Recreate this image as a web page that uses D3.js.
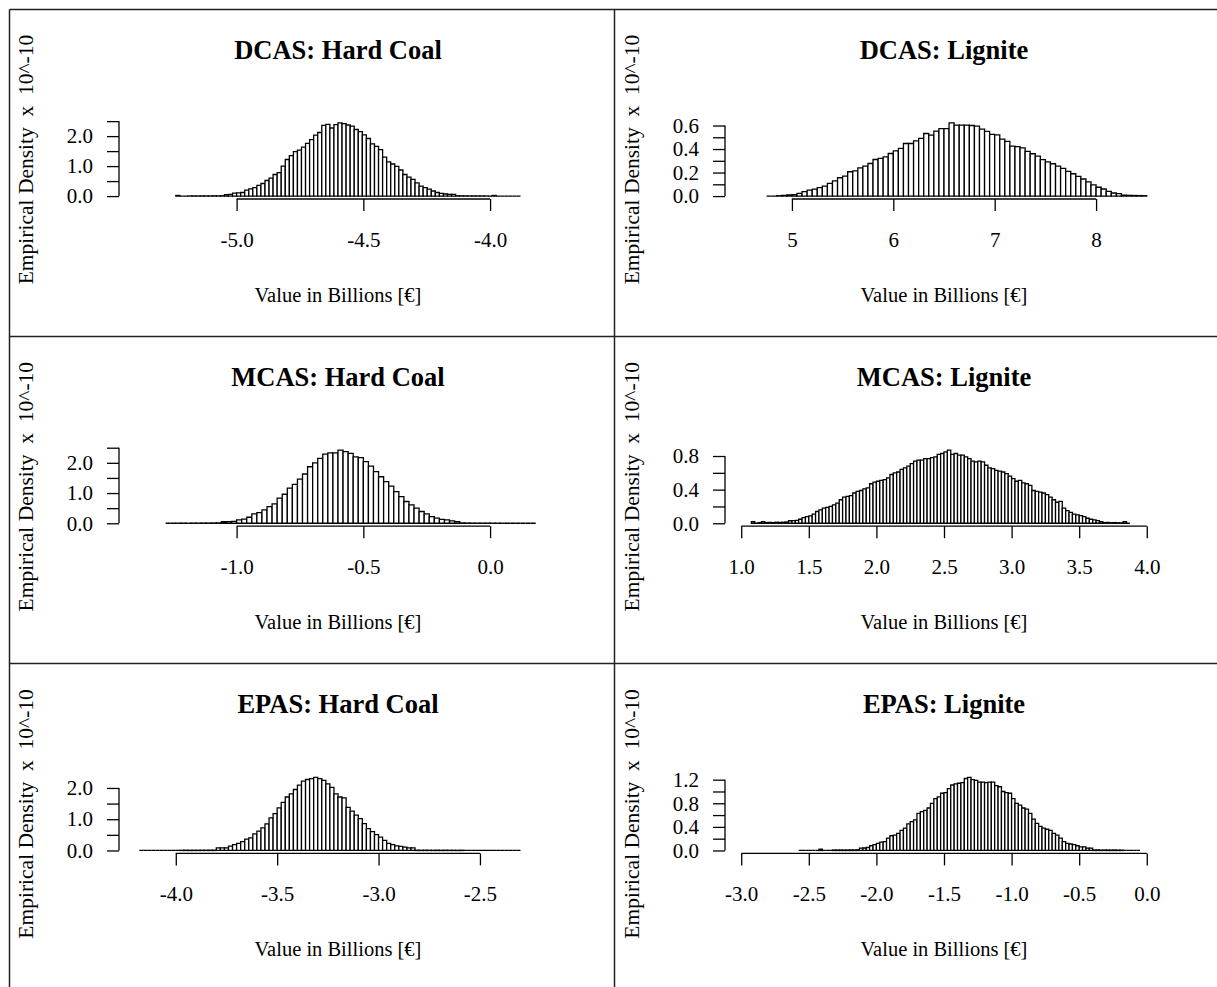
<!DOCTYPE html>
<html>
<head>
<meta charset="utf-8">
<script src="https://cdn.jsdelivr.net/npm/d3@7"></script>
<style>
    body { margin: 0; background: #fff; }
    svg text { font-family: "Liberation Serif", "Times New Roman", serif; fill: #000; }
</style>
</head>
<body>
<svg id="chart" width="1217" height="987"></svg>
<script>
// panel titles, row by row
const titles = ["DCAS: Hard Coal", "DCAS: Lignite", "MCAS: Hard Coal", "MCAS: Lignite", "EPAS: Hard Coal", "EPAS: Lignite"];

// histogram densities (x 10^-10), one value per bin
const dcasHardCoal = [0.02, 0, 0, 0.004, 0.005, 0.003, 0.006, 0.004, 0.005, 0.008,
    0.006, 0.01, 0.05, 0.06, 0.10, 0.11, 0.12, 0.20, 0.24, 0.28,
    0.36, 0.42, 0.52, 0.60, 0.72, 0.78, 1.00, 1.22, 1.35, 1.48,
    1.53, 1.63, 1.76, 1.88, 2.03, 2.12, 2.36, 2.39, 2.27, 2.38,
    2.44, 2.42, 2.37, 2.33, 2.22, 2.15, 2.04, 1.92, 1.74, 1.66,
    1.55, 1.30, 1.14, 1.07, 0.99, 0.87, 0.72, 0.63, 0.56, 0.44,
    0.33, 0.28, 0.23, 0.17, 0.12, 0.09, 0.07, 0.06, 0.06, 0.01,
    0.008, 0.006, 0.004, 0.005, 0.003, 0.004, 0.003, 0, 0.02, 0,
    0, 0, 0, 0, 0];
const dcasLignite = [0, 0, 0.003, 0.006, 0.01, 0.012,
    0.023, 0.037, 0.051, 0.059, 0.071, 0.085, 0.108, 0.13, 0.156, 0.17,
    0.207, 0.215, 0.24, 0.255, 0.277, 0.311, 0.32, 0.334, 0.362, 0.385,
    0.405, 0.447, 0.447, 0.47, 0.49, 0.532, 0.518, 0.552, 0.574, 0.574,
    0.622, 0.603, 0.603, 0.603,
    0.60, 0.595, 0.57, 0.55, 0.525, 0.52, 0.485, 0.465, 0.425, 0.42,
    0.41, 0.38, 0.36, 0.34, 0.31, 0.29, 0.275, 0.255, 0.235, 0.21,
    0.19, 0.168, 0.145, 0.12, 0.095, 0.075, 0.06, 0.04, 0.026, 0.02,
    0.008, 0.006, 0.005, 0.004, 0.003];
const mcasHardCoal = [0, 0, 0.004, 0.005, 0.003, 0.006, 0.005, 0.008, 0.006, 0.01, 0.012,
    0.05, 0.055, 0.06,
    0.11, 0.14, 0.2, 0.31, 0.35, 0.44, 0.55, 0.64, 0.83, 0.96,
    1.16, 1.29, 1.46, 1.63, 1.87, 2.0, 2.15, 2.29, 2.33, 2.33,
    2.42, 2.37, 2.31, 2.2, 2.17, 2.04, 1.89, 1.71, 1.54, 1.38,
    1.23, 1.05, 0.88, 0.72, 0.61, 0.5, 0.39, 0.31, 0.22, 0.17,
    0.13, 0.11, 0.08, 0.055,
    0.012, 0.008, 0.006, 0.005, 0.004, 0.005, 0.003, 0.004, 0.003,
    0, 0, 0, 0, 0, 0];
const mcasLignite = [0.02, 0, 0.008, 0.02, 0.008, 0.01, 0.008, 0.012, 0.01, 0.012,
    0.015, 0.03, 0.032, 0.035, 0.048, 0.068, 0.08, 0.088, 0.11, 0.14,
    0.16, 0.18, 0.19, 0.2, 0.22, 0.24, 0.28, 0.31, 0.32, 0.33,
    0.36, 0.38, 0.39, 0.41, 0.42, 0.47, 0.49, 0.5, 0.51, 0.52,
    0.54, 0.58, 0.6, 0.61, 0.64, 0.66, 0.68, 0.71, 0.74, 0.75,
    0.75, 0.77, 0.77, 0.78, 0.79, 0.82, 0.83, 0.85, 0.87, 0.82,
    0.83, 0.81, 0.81, 0.79, 0.77, 0.74, 0.73, 0.74, 0.73, 0.69,
    0.66, 0.65, 0.63, 0.62, 0.61, 0.59, 0.56, 0.53, 0.5, 0.51,
    0.48, 0.47, 0.45, 0.39, 0.38, 0.37, 0.36, 0.34, 0.31, 0.28,
    0.25, 0.26, 0.18, 0.15, 0.13, 0.11, 0.1, 0.09, 0.08, 0.06,
    0.048, 0.04, 0.032, 0.02, 0.008, 0.01, 0.006, 0.008, 0.006, 0.005,
    0.02, 0];
const epasHardCoal = [0, 0, 0, 0, 0, 0, 0, 0, 0,
    0, 0.006, 0.008, 0.005, 0.007, 0.006, 0.008, 0.007, 0.009, 0.01,
    0.08, 0.08, 0.085, 0.14, 0.19, 0.23, 0.28, 0.36, 0.40, 0.53,
    0.62, 0.72, 0.85, 1.04, 1.18, 1.36, 1.54, 1.71, 1.81, 1.95,
    2.09, 2.22, 2.27, 2.3, 2.34, 2.3, 2.24, 2.13, 2.02, 1.81,
    1.71, 1.68, 1.38, 1.26, 1.13, 1.02, 0.86, 0.7, 0.6, 0.51,
    0.43, 0.32, 0.23, 0.19, 0.15, 0.13, 0.11, 0.085, 0.08,
    0.008, 0.006, 0.009, 0.007, 0.005, 0.008, 0.006, 0.007, 0.005, 0.006, 0.004, 0.006,
    0, 0, 0, 0, 0, 0, 0, 0, 0, 0, 0, 0, 0, 0];
const epasLignite = [0, 0, 0, 0, 0, 0, 0.022, 0, 0, 0,
    0.008, 0.006, 0.009, 0.007, 0.008, 0.01, 0.008, 0.012,
    0.04, 0.042, 0.05, 0.08, 0.1, 0.12, 0.14, 0.15, 0.21, 0.25,
    0.26, 0.29, 0.34, 0.38, 0.45, 0.49, 0.52, 0.63, 0.66, 0.68,
    0.72, 0.8, 0.88, 0.91, 0.97, 0.98, 1.05, 1.11, 1.13, 1.14,
    1.15, 1.22, 1.24, 1.2, 1.19, 1.16, 1.16, 1.15, 1.16, 1.16,
    1.1, 1.08, 1.0, 0.98, 0.97, 0.88, 0.8, 0.77, 0.72, 0.7,
    0.63, 0.53, 0.46, 0.41, 0.38, 0.36, 0.34, 0.29, 0.26, 0.21,
    0.15, 0.12, 0.11, 0.1, 0.08, 0.06, 0.06, 0.04, 0.04,
    0.008, 0.01, 0.006, 0.008, 0.007, 0.006, 0.008, 0.005, 0.006,
    0, 0, 0, 0, 0];
const densities = [dcasHardCoal, dcasLignite, mcasHardCoal, mcasLignite, epasHardCoal, epasLignite];

// first break and bin width of every histogram
const binStarts = [-5.24, 4.75, -1.28, 1.075, -4.18, -2.575];
const binWidths = [0.016, 0.05, 0.02, 0.025, 0.02, 0.025];

// x limits of each plot
const xLimits = [[-5.4, -3.8], [4.5, 8.5], [-1.4, 0.2], [1, 4], [-4.2, -2.2], [-3, 0]];

// axis ticks and their labels
const xTicks = [
    [-5.0, -4.5, -4.0],
    [5, 6, 7, 8],
    [-1.0, -0.5, 0.0],
    [1.0, 1.5, 2.0, 2.5, 3.0, 3.5, 4.0],
    [-4.0, -3.5, -3.0, -2.5],
    [-3.0, -2.5, -2.0, -1.5, -1.0, -0.5, 0.0]
];
const xTickLabels = [
    ["-5.0", "-4.5", "-4.0"],
    ["5", "6", "7", "8"],
    ["-1.0", "-0.5", "0.0"],
    ["1.0", "1.5", "2.0", "2.5", "3.0", "3.5", "4.0"],
    ["-4.0", "-3.5", "-3.0", "-2.5"],
    ["-3.0", "-2.5", "-2.0", "-1.5", "-1.0", "-0.5", "0.0"]
];
const yTicks = [
    [0, 0.5, 1, 1.5, 2, 2.5],
    [0, 0.1, 0.2, 0.3, 0.4, 0.5, 0.6],
    [0, 0.5, 1, 1.5, 2, 2.5],
    [0, 0.2, 0.4, 0.6, 0.8],
    [0, 0.5, 1, 1.5, 2],
    [0, 0.2, 0.4, 0.6, 0.8, 1.0, 1.2]
];
const yTickLabels = [
    ["0.0", "", "1.0", "", "2.0", ""],
    ["0.0", "", "0.2", "", "0.4", "", "0.6"],
    ["0.0", "", "1.0", "", "2.0", ""],
    ["0.0", "", "0.4", "", "0.8"],
    ["0.0", "", "1.0", "", "2.0"],
    ["0.0", "", "0.4", "", "0.8", "", "1.2"]
];

const xLabel = "Value in Billions [€]";
const yLabel = "Empirical Density  x  10^-10";

// layout of the 3 x 2 grid
const plotLefts = [119, 725];
const plotWidth = 438;
const plotHeight = 79;
const firstBottom = 199;
const rowStep = 327.2;

const svg = d3.select("#chart");

// cell frame lines
const frame = svg.append("g")
    .attr("stroke", "#222")
    .attr("stroke-width", 1.5);
frame.append("line").attr("x1", 9.5).attr("x2", 1217).attr("y1", 9.5).attr("y2", 9.5);
frame.append("line").attr("x1", 9.5).attr("x2", 9.5).attr("y1", 9.5).attr("y2", 987);
frame.append("line").attr("x1", 614.5).attr("x2", 614.5).attr("y1", 9.5).attr("y2", 987);
frame.append("line").attr("x1", 9.5).attr("x2", 1217).attr("y1", 336.5).attr("y2", 336.5);
frame.append("line").attr("x1", 9.5).attr("x2", 1217).attr("y1", 663.5).attr("y2", 663.5);

densities.forEach(function (dens, i) {
    const col = i % 2;
    const row = Math.floor(i / 2);
    const left = plotLefts[col];
    const bottom = firstBottom + row * rowStep;

    // R style limits: 4% padding on each side
    const lo = xLimits[i][0], hi = xLimits[i][1];
    const pad = 0.04 * (hi - lo);
    const x = d3.scaleLinear()
        .domain([lo - pad, hi + pad])
        .range([left, left + plotWidth]);

    const yMax = d3.max(dens);
    const y = d3.scaleLinear()
        .domain([-0.04 * yMax, 1.04 * yMax])
        .range([bottom, bottom - plotHeight]);

    const g = svg.append("g").attr("class", "panel");

    // bars, drawn as paths so that empty bins still leave a line
    g.append("g")
        .selectAll("path")
        .data(dens)
        .enter().append("path")
        .attr("d", function (d, k) {
            const x0 = x(binStarts[i] + k * binWidths[i]);
            const x1 = x(binStarts[i] + (k + 1) * binWidths[i]);
            return "M" + x0 + "," + y(0) + "V" + y(d) + "H" + x1 + "V" + y(0) + "Z";
        })
        .attr("fill", "#fff")
        .attr("stroke", "#000")
        .attr("stroke-width", 1.3);

    // x axis, spanning first to last tick only
    const xt = xTicks[i];
    const xAxis = g.append("g")
        .attr("transform", "translate(0," + bottom + ")")
        .call(d3.axisBottom(x)
            .tickValues(xt)
            .tickFormat(function (d, k) { return xTickLabels[i][k]; })
            .tickSize(12)
            .tickSizeOuter(0)
            .tickPadding(21));
    xAxis.select(".domain").attr("d", "M" + x(xt[0]) + ",0H" + x(xt[xt.length - 1]));

    // y axis
    const yt = yTicks[i];
    const yAxis = g.append("g")
        .attr("transform", "translate(" + left + ",0)")
        .call(d3.axisLeft(y)
            .tickValues(yt)
            .tickFormat(function (d, k) { return yTickLabels[i][k]; })
            .tickSize(12)
            .tickSizeOuter(0)
            .tickPadding(14));
    yAxis.select(".domain").attr("d", "M0," + y(yt[0]) + "V" + y(yt[yt.length - 1]));

    [xAxis, yAxis].forEach(function (a) {
        a.attr("font-family", null).attr("font-size", null);
        a.selectAll("path, line").attr("stroke", "#000").attr("stroke-width", 1.3);
        a.selectAll("text").style("font-size", "21px");
    });

    const cx = left + plotWidth / 2;

    // title
    g.append("text")
        .attr("x", cx)
        .attr("y", bottom - 140.5)
        .attr("text-anchor", "middle")
        .style("font-size", "26.5px")
        .style("font-weight", "bold")
        .text(titles[i]);

    // x label
    g.append("text")
        .attr("x", cx)
        .attr("y", bottom + 103)
        .attr("text-anchor", "middle")
        .style("font-size", "20.5px")
        .text(xLabel);

    // y label
    g.append("text")
        .attr("transform", "translate(" + (left - 86) + "," + (bottom - plotHeight / 2) + ") rotate(-90)")
        .attr("text-anchor", "middle")
        .style("font-size", "21.5px")
        .style("white-space", "pre")
        .text(yLabel);
});
</script>
</body>
</html>
